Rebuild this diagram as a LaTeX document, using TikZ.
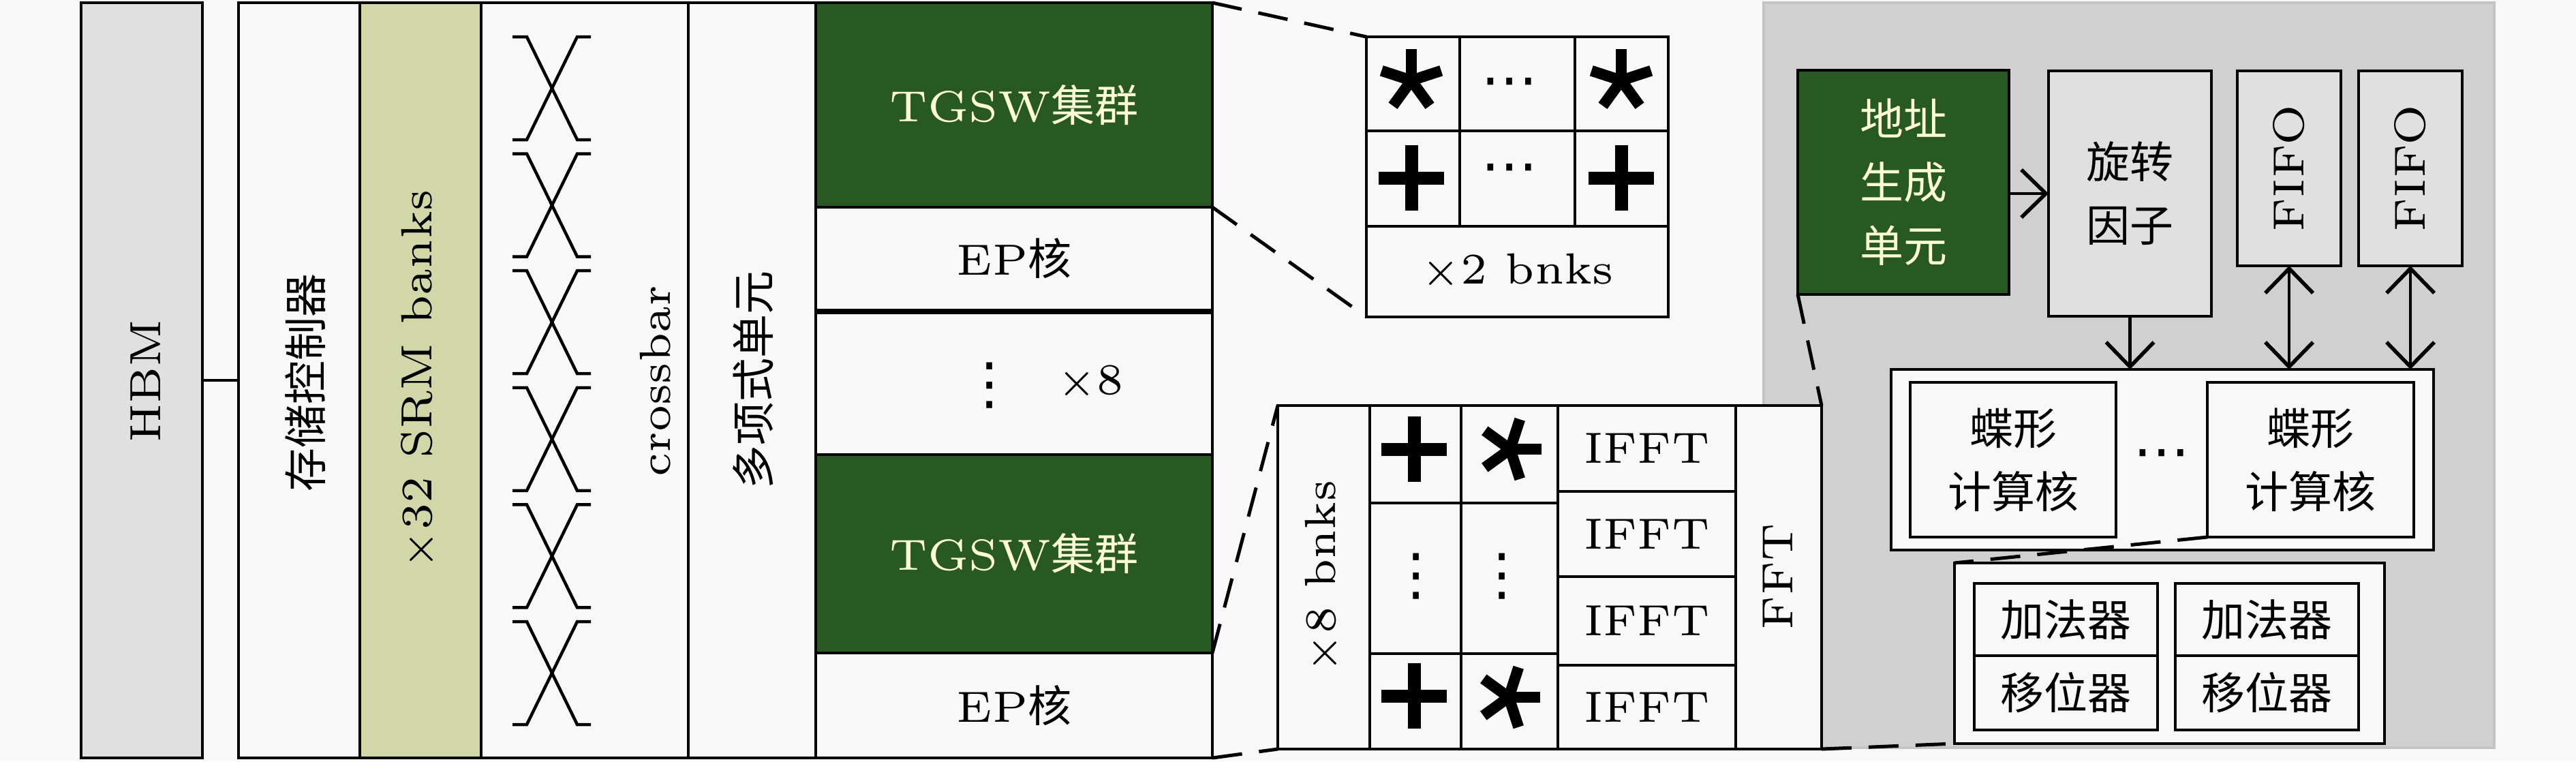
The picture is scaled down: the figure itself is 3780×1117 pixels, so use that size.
\documentclass[tikz,border=0pt]{standalone}
\usepackage{fontspec}
\newfontfamily\cjkfont{Noto Sans CJK SC}
\newfontfamily\symfont{DejaVu Sans}
\usetikzlibrary{arrows.meta}
\definecolor{bgc}{RGB}{248,248,248}
\definecolor{hbmc}{RGB}{224,224,224}
\definecolor{srmc}{RGB}{210,215,168}
\definecolor{dgreen}{RGB}{40,89,34}
\definecolor{tgswtxt}{RGB}{255,255,215}
\definecolor{panelc}{RGB}{208,208,208}
\definecolor{panelb}{RGB}{196,196,196}
\definecolor{lgray}{RGB}{224,224,224}
\newcommand\zh[1]{{\cjkfont #1}}
\newcommand\vdts{\scalebox{1.3}{\symfont ⋮}}
\newcommand\hdts{\scalebox{1.3}{\symfont ⋯}}
\newcommand\blkbox[7]{%
  \pgfmathsetmacro\blkW{(#4-#2)*0.1}%
  \pgfmathsetmacro\blkH{(#5-#3)*0.1}%
  \node[#6,minimum width=\blkW pt,minimum height=\blkH pt] (#1) at ({(#2+#4)/2},{(#3+#5)/2}) {#7};%
}
\newcommand\astk[3]{%
  \foreach \ang in {18,90,162,234,306} {\draw[line width=1.6pt] (#1,#2) -- ++({46*cos(\ang+#3)},{-46*sin(\ang+#3)});}%
}
\newcommand\plusk[2]{%
  \draw[line width=1.9pt] (#1-48,#2) -- (#1+48,#2);
  \draw[line width=1.9pt] (#1,#2-48) -- (#1,#2+48);%
}
\newcommand\xcross[1]{%
  \draw[line width=0.45pt] (752,#1) -- (773,#1) -- (847,#1+151) -- (867,#1+151);
  \draw[line width=0.45pt] (867,#1) -- (847,#1) -- (773,#1+151) -- (752,#1+151);%
}
\tikzset{
  blk/.style={draw=black,line width=0.45pt,fill=bgc,inner sep=0pt,outer sep=0pt,align=center},
  grn/.style={blk,fill=dgreen,text=tgswtxt},
  gbox/.style={blk,fill=lgray},
  lbl/.style={inner sep=0pt},
  arr/.style={line width=0.45pt,-{Straight Barb[length=3.6pt,width=7pt,line width=0.55pt]}},
  darr/.style={line width=0.45pt,{Straight Barb[length=3.6pt,width=7pt,line width=0.55pt]}-{Straight Barb[length=3.6pt,width=7pt,line width=0.55pt]}},
  zoomline/.style={line width=0.5pt,dash pattern=on 4.4pt off 2.5pt},
}
\begin{document}
\begin{tikzpicture}[x=0.1pt,y=-0.1pt,every node/.append style={font=\fontsize{6.4}{9.3}\selectfont}]
\fill[bgc] (0,0) rectangle (3780,1117);
\useasboundingbox (0,0) rectangle (3780,1117);

% left part
\blkbox{hbm}{119}{4}{297}{1112}{blk,fill=hbmc}{}
\node[lbl,rotate=90] (thbm) at (214,559) {HBM};
\blkbox{ctrl}{350}{4}{528}{1112}{blk}{}
\node[lbl,rotate=90] (tctrl) at (448,561) {\zh{存储控制器}};
\blkbox{srm}{528}{4}{706}{1112}{blk,fill=srmc}{}
\node[lbl,rotate=90] (tsrm) at (615,557) {$\times$32 SRM banks};
\blkbox{xbar}{706}{4}{1010}{1112}{blk}{}
\foreach \k in {0,...,5} {\pgfmathsetmacro\yt{54+171.6*\k}\xcross{\yt}}
\node[lbl,rotate=90] (txbar) at (962,559) {crossbar};
\blkbox{poly}{1010}{4}{1197}{1112}{blk}{}
\node[lbl,rotate=90] (tpoly) at (1105,557) {\zh{多项式单元}};
\draw[line width=0.45pt] (hbm.east) -- (ctrl.west);

% middle column
\blkbox{tg1}{1197}{4}{1779}{304}{grn}{TGSW\zh{集群}}
\blkbox{ep1}{1197}{304}{1779}{455}{blk}{EP\zh{核}}
\blkbox{mid}{1197}{459}{1779}{667}{blk}{}
\node[lbl] (vd) at (1452,566) {\vdts};
\node[lbl] (x8) at (1600,561) {$\times$8};
\blkbox{tg2}{1197}{667}{1779}{958}{grn}{TGSW\zh{集群}}
\blkbox{ep2}{1197}{958}{1779}{1112}{blk}{EP\zh{核}}

% zoom of TGSW cluster
\blkbox{a11}{2005}{54}{2142}{192}{blk}{}
\blkbox{a12}{2142}{54}{2311}{192}{blk}{}
\node[lbl] (a12d) at (2215,130) {\hdts};
\blkbox{a13}{2311}{54}{2448}{192}{blk}{}
\blkbox{a21}{2005}{192}{2142}{332}{blk}{}
\blkbox{a22}{2142}{192}{2311}{332}{blk}{}
\node[lbl] (a22d) at (2215,256) {\hdts};
\blkbox{a23}{2311}{192}{2448}{332}{blk}{}
\blkbox{a3}{2005}{332}{2448}{465}{blk}{$\times$2 bnks}
\astk{2071}{118}{0}
\astk{2379}{118}{0}
\plusk{2071}{261}
\plusk{2379}{261}

% right gray panel
\fill[panelc,draw=panelb,line width=0.4pt] (2588,4) rectangle (3660,1097);
\blkbox{addr}{2638}{103}{2948}{432}{grn}{\zh{地址}\\\zh{生成}\\\zh{单元}}
\blkbox{rot}{3006}{104}{3245}{464}{gbox}{\zh{旋转}\\\zh{因子}}
\blkbox{fifo1}{3283}{104}{3435}{390}{gbox}{}
\node[lbl,rotate=90] (tf1) at (3359,247) {FIFO};
\blkbox{fifo2}{3461}{104}{3613}{390}{gbox}{}
\node[lbl,rotate=90] (tf2) at (3537,247) {FIFO};
\blkbox{bfo}{2775}{542}{3571}{807}{blk}{}
\blkbox{bf1}{2803}{561}{3105}{788}{blk}{\zh{蝶形}\\\zh{计算核}}
\blkbox{bf2}{3239}{561}{3542}{788}{blk}{\zh{蝶形}\\\zh{计算核}}
\node[lbl] (bfd) at (3172,675) {\hdts};
\blkbox{aout}{2868}{826}{3499}{1091}{blk}{}
\blkbox{ad1}{2897}{856}{3166}{962}{blk}{\zh{加法器}}
\blkbox{sh1}{2897}{962}{3166}{1071}{blk}{\zh{移位器}}
\blkbox{ad2}{3192}{856}{3461}{962}{blk}{\zh{加法器}}
\blkbox{sh2}{3192}{962}{3461}{1071}{blk}{\zh{移位器}}
\draw[arr] (addr.east |- rot.west) -- (rot.west);
\draw[arr] (rot.south) -- (rot.south |- bfo.north);
\draw[darr] (fifo1.south) -- (fifo1.south |- bfo.north);
\draw[darr] (fifo2.south) -- (fifo2.south |- bfo.north);

% zoom of EP core
\blkbox{bn}{1875}{595}{2010}{1099}{blk}{}
\node[lbl,rotate=90] (tbn) at (1941,846) {$\times$8 bnks};
\blkbox{p1}{2010}{595}{2144}{738}{blk}{}
\blkbox{m1}{2144}{595}{2286}{738}{blk}{}
\blkbox{p2}{2010}{738}{2144}{959}{blk}{}
\node[lbl] (p2d) at (2078,846) {\vdts};
\blkbox{m2}{2144}{738}{2286}{959}{blk}{}
\node[lbl] (m2d) at (2204,846) {\vdts};
\blkbox{p3}{2010}{959}{2144}{1099}{blk}{}
\blkbox{m3}{2144}{959}{2286}{1099}{blk}{}
\plusk{2075}{659}
\astk{2216}{659}{-18}
\plusk{2075}{1021}
\astk{2214}{1023}{-18}
\blkbox{if1}{2286}{595}{2547}{721}{blk}{IFFT}
\blkbox{if2}{2286}{721}{2547}{846}{blk}{IFFT}
\blkbox{if3}{2286}{846}{2547}{976}{blk}{IFFT}
\blkbox{if4}{2286}{976}{2547}{1099}{blk}{IFFT}
\blkbox{fft}{2547}{595}{2673}{1099}{blk}{}
\node[lbl,rotate=90] (tfft) at (2609,846) {FFT};

% zoom lines
\draw[zoomline] (tg1.north east) -- (a11.north west);
\draw[zoomline] (tg1.south east) -- (a3.south west);
\draw[zoomline] (tg2.south east) -- (bn.north west);
\draw[zoomline] (ep2.south east) -- (bn.south west);
\draw[zoomline] (addr.south west) -- (fft.north east);
\draw[zoomline] (fft.south east) -- (aout.south west);
\draw[zoomline] (bf2.south west) -- (aout.north west);
\end{tikzpicture}
\end{document}
